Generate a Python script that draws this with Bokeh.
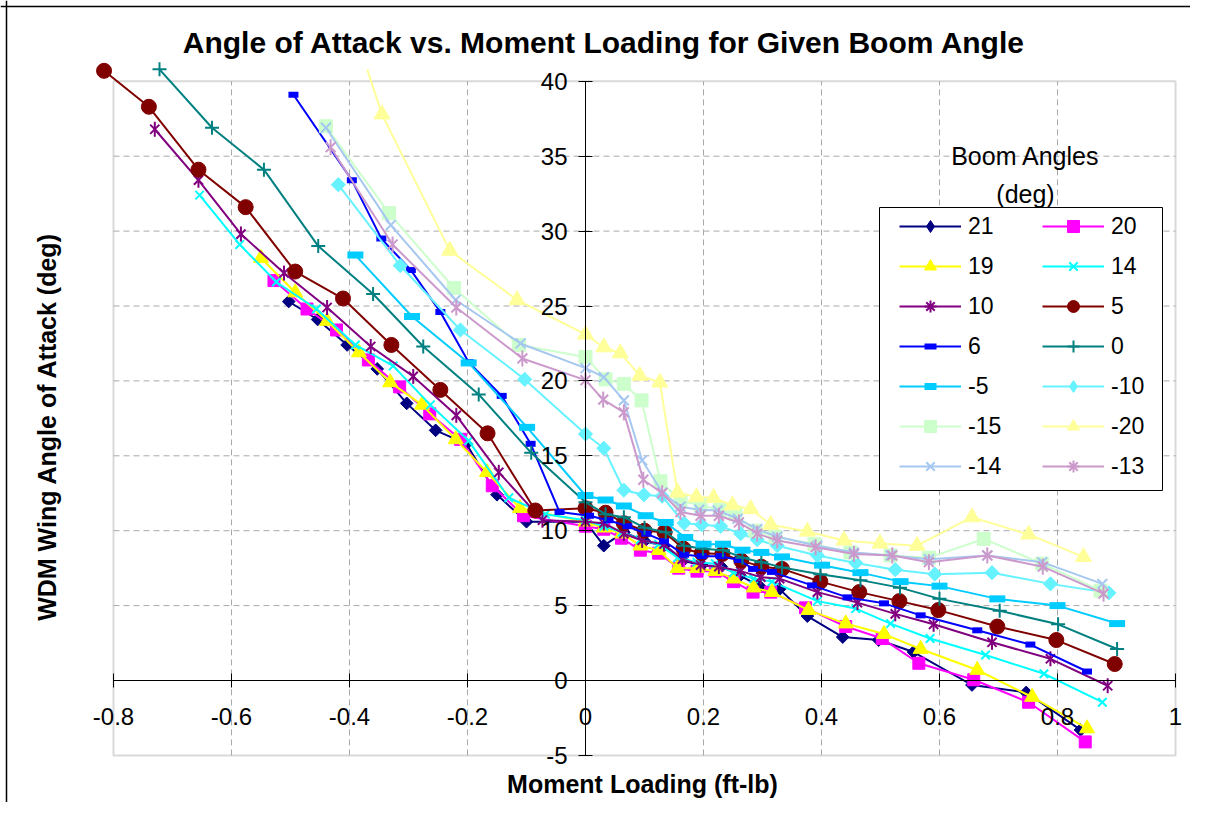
import math
from bokeh.plotting import figure
from bokeh.models import (Label, Legend, LegendItem, BoxAnnotation, FixedTicker, Range1d,
                          ColumnDataSource, LinearAxis, Span)
from bokeh.embed import file_html
from bokeh.resources import INLINE

# ---------------- data ----------------
boom_angles = ["21", "20", "19", "14", "10", "5", "6", "0", "-5", "-10", "-15", "-20", "-14", "-13"]

x_21 = [-0.503, -0.454, -0.404, -0.353, -0.303, -0.254, -0.202, -0.150, -0.100, 0.0, 0.031, 0.065, 0.100, 0.133, 0.165, 0.197, 0.230, 0.262, 0.295, 0.329, 0.376, 0.436, 0.497, 0.556, 0.655, 0.747, 0.839]
y_21 = [25.3, 24.1, 22.4, 20.8, 18.5, 16.7, 15.8, 12.4, 10.6, 10.6, 9.0, 9.9, 9.3, 9.0, 8.0, 7.7, 7.6, 7.0, 6.3, 6.1, 4.3, 2.9, 2.7, 1.9, -0.3, -0.8, -3.3]

x_20 = [-0.528, -0.472, -0.422, -0.368, -0.315, -0.264, -0.212, -0.158, -0.105, 0.0, 0.031, 0.061, 0.093, 0.124, 0.158, 0.189, 0.220, 0.251, 0.284, 0.314, 0.373, 0.441, 0.503, 0.565, 0.658, 0.751, 0.847]
y_20 = [26.7, 24.8, 23.4, 21.4, 19.6, 17.8, 16.1, 13.0, 11.0, 10.3, 10.1, 9.5, 8.7, 8.5, 7.5, 7.3, 7.3, 6.6, 5.9, 5.9, 4.85, 3.6, 2.8, 1.15, 0.05, -1.45, -4.1]

x_19 = [-0.550, -0.492, -0.438, -0.384, -0.331, -0.277, -0.220, -0.167, -0.111, 0.0, 0.031, 0.062, 0.093, 0.124, 0.156, 0.189, 0.220, 0.251, 0.285, 0.316, 0.378, 0.441, 0.506, 0.568, 0.664, 0.757, 0.850]
y_19 = [28.2, 25.9, 24.0, 21.9, 19.9, 18.4, 16.1, 13.9, 11.5, 10.6, 10.2, 9.8, 9.0, 8.7, 7.5, 7.5, 7.3, 6.8, 6.2, 5.9, 4.7, 3.8, 3.1, 2.1, 0.7, -1.1, -3.2]

x_14 = [-0.654, -0.586, -0.524, -0.456, -0.390, -0.326, -0.263, -0.198, -0.130, -0.068, 0.0, 0.031, 0.062, 0.093, 0.124, 0.156, 0.189, 0.220, 0.251, 0.285, 0.316, 0.393, 0.458, 0.517, 0.584, 0.678, 0.777, 0.876]
y_14 = [32.4, 29.1, 26.6, 24.8, 22.4, 21.0, 18.4, 16.0, 12.2, 11.1, 10.7, 10.3, 9.9, 9.4, 9.1, 8.2, 7.9, 7.8, 7.2, 6.8, 6.6, 5.3, 4.8, 3.8, 2.8, 1.7, 0.45, -1.45]

x_10 = [-0.730, -0.656, -0.584, -0.511, -0.438, -0.364, -0.292, -0.219, -0.147, -0.073, 0.0, 0.031, 0.065, 0.096, 0.133, 0.164, 0.195, 0.226, 0.263, 0.297, 0.329, 0.393, 0.461, 0.525, 0.590, 0.689, 0.788, 0.885]
y_10 = [36.8, 33.4, 29.8, 27.2, 24.9, 22.3, 20.3, 17.7, 13.9, 10.7, 10.6, 10.5, 9.8, 9.35, 9.1, 8.1, 7.7, 7.6, 7.3, 6.9, 6.8, 5.9, 5.2, 4.45, 3.75, 2.55, 1.45, -0.35]

x_5 = [-0.816, -0.740, -0.656, -0.576, -0.492, -0.411, -0.329, -0.246, -0.166, -0.085, 0.0, 0.034, 0.065, 0.100, 0.134, 0.166, 0.197, 0.232, 0.264, 0.298, 0.333, 0.398, 0.464, 0.532, 0.598, 0.698, 0.798, 0.897]
y_5 = [40.7, 38.3, 34.1, 31.6, 27.3, 25.5, 22.4, 19.4, 16.5, 11.35, 11.5, 11.2, 10.5, 10.0, 9.9, 8.8, 8.5, 8.45, 8.0, 7.6, 7.45, 6.6, 5.9, 5.3, 4.7, 3.6, 2.7, 1.1]

x_6 = [-0.495, -0.396, -0.346, -0.296, -0.246, -0.198, -0.142, -0.093, -0.044, 0.006, 0.039, 0.071, 0.103, 0.133, 0.167, 0.197, 0.229, 0.260, 0.284, 0.316, 0.384, 0.444, 0.506, 0.568, 0.664, 0.754, 0.850]
y_6 = [39.1, 33.4, 29.5, 27.4, 24.6, 21.25, 19.0, 15.8, 11.25, 11.0, 10.7, 10.3, 9.8, 9.3, 8.4, 8.3, 8.3, 8.05, 7.45, 7.25, 6.35, 5.55, 5.15, 4.35, 3.35, 2.4, 0.6]

x_0 = [-0.722, -0.633, -0.545, -0.453, -0.360, -0.275, -0.181, -0.092, 0.0, 0.034, 0.065, 0.100, 0.136, 0.167, 0.199, 0.233, 0.266, 0.298, 0.333, 0.398, 0.466, 0.533, 0.600, 0.702, 0.801, 0.901]
y_0 = [40.8, 36.9, 34.1, 29.0, 25.8, 22.3, 19.1, 15.2, 11.9, 11.1, 10.9, 10.2, 9.9, 9.0, 8.8, 8.7, 8.2, 7.9, 7.55, 7.1, 6.7, 6.2, 5.45, 4.65, 3.75, 2.1]

x_m5 = [-0.390, -0.294, -0.198, -0.099, 0.0, 0.034, 0.065, 0.102, 0.136, 0.169, 0.200, 0.233, 0.266, 0.298, 0.333, 0.401, 0.466, 0.534, 0.600, 0.698, 0.800, 0.901]
y_m5 = [28.4, 24.3, 21.2, 16.9, 12.35, 12.05, 11.65, 11.0, 10.55, 9.55, 9.1, 9.1, 8.7, 8.55, 8.25, 7.7, 7.2, 6.6, 6.3, 5.45, 5.0, 3.8]

x_m10 = [-0.419, -0.314, -0.212, -0.103, 0.0, 0.031, 0.065, 0.099, 0.130, 0.167, 0.197, 0.229, 0.263, 0.291, 0.325, 0.393, 0.458, 0.525, 0.592, 0.689, 0.788, 0.887]
y_m10 = [33.1, 27.7, 23.4, 20.1, 16.45, 15.5, 12.7, 12.4, 12.3, 10.5, 10.4, 10.3, 9.8, 9.4, 9.0, 8.35, 7.85, 7.4, 7.1, 7.2, 6.45, 5.85]

x_m15 = [-0.440, -0.333, -0.223, -0.113, 0.0, 0.034, 0.065, 0.095, 0.127, 0.161, 0.195, 0.228, 0.254, 0.288, 0.322, 0.388, 0.449, 0.517, 0.582, 0.675, 0.774, 0.873]
y_m15 = [37.0, 31.2, 26.2, 22.4, 21.6, 20.1, 19.8, 18.7, 13.3, 12.0, 11.7, 11.4, 11.1, 10.0, 9.6, 9.1, 8.55, 8.35, 8.2, 9.45, 7.8, 6.0]

# first -20 point: where its line leaves the top of the chart (no marker shown there)
x_m20 = [-0.370, -0.345, -0.230, -0.116, 0.0, 0.031, 0.059, 0.092, 0.126, 0.156, 0.188, 0.217, 0.249, 0.280, 0.314, 0.376, 0.438, 0.499, 0.562, 0.655, 0.751, 0.844]
y_m20 = [40.8, 37.8, 28.7, 25.4, 23.1, 22.25, 21.85, 20.35, 19.9, 12.55, 12.25, 12.2, 11.7, 11.45, 10.4, 9.95, 9.35, 9.15, 9.0, 10.9, 9.75, 8.25]

x_m14 = [-0.440, -0.330, -0.220, -0.110, 0.0, 0.031, 0.065, 0.096, 0.130, 0.161, 0.193, 0.224, 0.258, 0.291, 0.325, 0.393, 0.455, 0.517, 0.582, 0.681, 0.774, 0.876]
y_m14 = [36.9, 30.4, 25.4, 22.5, 20.85, 20.25, 18.7, 14.7, 12.55, 11.6, 11.4, 11.35, 10.8, 10.1, 9.6, 9.0, 8.55, 8.35, 8.1, 8.35, 7.9, 6.45]

x_m13 = [-0.432, -0.327, -0.219, -0.107, 0.0, 0.030, 0.065, 0.098, 0.130, 0.161, 0.195, 0.226, 0.260, 0.291, 0.325, 0.390, 0.455, 0.520, 0.582, 0.681, 0.775, 0.878]
y_m13 = [35.6, 29.1, 24.9, 21.5, 20.05, 18.75, 17.9, 13.4, 12.5, 11.25, 11.0, 11.0, 10.55, 9.8, 9.35, 8.9, 8.45, 8.35, 7.9, 8.35, 7.6, 5.8]

x_ticks = [-0.8, -0.6, -0.4, -0.2, 0, 0.2, 0.4, 0.6, 0.8, 1]
x_tick_labels = ["-0.8", "-0.6", "-0.4", "-0.2", "0", "0.2", "0.4", "0.6", "0.8", "1"]
y_ticks = [-5, 0, 5, 10, 15, 20, 25, 30, 35, 40]
y_tick_labels = ["-5", "0", "5", "10", "15", "20", "25", "30", "35", "40"]
x_min, x_max = -0.8, 1
y_min, y_max = -5, 40

title_text = "Angle of Attack vs. Moment Loading for Given Boom Angle"
x_label_text = "Moment Loading (ft-lb)"
y_label_text = "WDM Wing Angle of Attack (deg)"
legend_title_1 = "Boom Angles"
legend_title_2 = "(deg)"

# ---------------- styles ----------------
xs = [x_21, x_20, x_19, x_14, x_10, x_5, x_6, x_0, x_m5, x_m10, x_m15, x_m20, x_m14, x_m13]
ys = [y_21, y_20, y_19, y_14, y_10, y_5, y_6, y_0, y_m5, y_m10, y_m15, y_m20, y_m14, y_m13]
styles = [
    ("#000080", "diamond", 9),
    ("#FF00FF", "square", 12),
    ("#FFFF00", "triangle", 15),
    ("#00FFFF", "x", 12),
    ("#800080", "star", 13),
    ("#800000", "circle", 15),
    ("#0000FF", "bar_s", 10),
    ("#008080", "plus", 14),
    ("#00CCFF", "bar_l", 16),
    ("#66F2FF", "diamond", 10),
    ("#CCFFCC", "square", 13),
    ("#FFFF99", "triangle", 16),
    ("#A6C8F0", "x", 14),
    ("#CC99CC", "star", 14),
]
# number of leading points whose marker lies beyond the chart edge (not drawn)
marker_skip = [0, 0, 0, 0, 0, 0, 0, 0, 0, 0, 0, 1, 0, 0]

FONT = "Liberation Sans"
W, H = 1190, 802
# the frame fills the whole canvas; ranges put the plot box where the reference has it
p = figure(width=W, height=H, output_backend="svg", toolbar_location=None, title=None,
           x_range=Range1d(-0.9915, 1.0254), y_range=Range1d(-8.144, 45.394),
           x_axis_location=None, y_axis_location=None, min_border=0)
p.background_fill_color = "white"
p.border_fill_color = "white"
p.outline_line_color = None
p.xgrid.visible = False
p.ygrid.visible = False

# outer chart border (left / top)
p.add_layout(Span(location=6, dimension="height", location_units="screen",
                  line_color="black", line_width=1.5))
p.add_layout(Span(location=H - 6, dimension="width", location_units="screen",
                  line_color="black", line_width=1.5))

# plot area box
p.add_layout(BoxAnnotation(left=x_min, right=x_max, bottom=y_min, top=y_max,
                           fill_alpha=0, line_color="#808080", line_width=2, level="underlay"))

# dashed grid lines
gx = x_ticks[1:-1]
gy = y_ticks[1:-1]
p.segment(x0=gx, y0=[y_min] * len(gx), x1=gx, y1=[y_max] * len(gx),
          line_color="#A8A8A8", line_dash="6 4", line_width=1)
p.segment(x0=[x_min] * len(gy), y0=gy, x1=[x_max] * len(gy), y1=gy,
          line_color="#A8A8A8", line_dash="6 4", line_width=1)

# axes crossing at zero
xaxis = LinearAxis(fixed_location=0, bounds=(x_min, x_max), ticker=FixedTicker(ticks=x_ticks))
yaxis = LinearAxis(fixed_location=0, bounds=(y_min, y_max), ticker=FixedTicker(ticks=y_ticks))
xaxis.major_label_overrides = {t: s for t, s in zip(x_ticks, x_tick_labels)}
yaxis.major_label_overrides = {t: s for t, s in zip(y_ticks, y_tick_labels)}
for ax in (xaxis, yaxis):
    ax.axis_line_color = "black"
    ax.axis_line_width = 1
    ax.major_tick_line_color = "black"
    ax.major_tick_in = 7
    ax.major_tick_out = 7
    ax.minor_tick_line_color = None
    ax.major_label_text_font = FONT
    ax.major_label_text_font_size = "24px"
    ax.major_label_text_color = "black"
xaxis.major_label_standoff = 20
yaxis.major_label_standoff = 11
p.add_layout(xaxis, "below")
p.add_layout(yaxis, "left")


def add_markers(src, color, kind, size):
    rs = []
    if kind == "diamond":
        rs.append(p.scatter("x", "y", source=src, marker="square", angle=math.pi / 4, size=size,
                            fill_color=color, line_color=color))
    elif kind == "square":
        rs.append(p.scatter("x", "y", source=src, marker="square", size=size,
                            fill_color=color, line_color=color))
    elif kind == "triangle":
        rs.append(p.scatter("x", "y", source=src, marker="triangle", size=size,
                            fill_color=color, line_color=color))
    elif kind == "circle":
        rs.append(p.scatter("x", "y", source=src, marker="circle", size=size,
                            fill_color=color, line_color=color))
    elif kind == "x":
        rs.append(p.scatter("x", "y", source=src, marker="x", size=size,
                            line_color=color, line_width=2))
    elif kind == "plus":
        rs.append(p.scatter("x", "y", source=src, marker="cross", size=size,
                            line_color=color, line_width=2))
    elif kind == "star":
        rs.append(p.scatter("x", "y", source=src, marker="x", size=size,
                            line_color=color, line_width=2))
        rs.append(p.scatter("x", "y", source=src, marker="dash", angle=math.pi / 2, size=size * 1.15,
                            line_color=color, line_width=2))
    elif kind == "bar_s":
        rs.append(p.scatter("x", "y", source=src, marker="dash", size=size,
                            line_color=color, line_width=6))
    elif kind == "bar_l":
        rs.append(p.scatter("x", "y", source=src, marker="dash", size=size,
                            line_color=color, line_width=7))
    return rs


def legend_marker(src, color, kind, size):
    # hidden copies used only to draw the legend key
    if kind == "diamond":
        return [p.scatter("x", "y", source=src, marker="diamond", size=15,
                          fill_color=color, line_color=color, visible=False)]
    if kind == "star":
        return [p.scatter("x", "y", source=src, marker="asterisk", size=size,
                          line_color=color, line_width=2, visible=False)]
    return None


items = []
for lab, xv, yv, (color, kind, size), skip in zip(boom_angles, xs, ys, styles, marker_skip):
    src = ColumnDataSource(data=dict(x=xv, y=yv))
    msrc = ColumnDataSource(data=dict(x=xv[skip:], y=yv[skip:])) if skip else src
    ln = p.line("x", "y", source=src, line_color=color, line_width=2)
    ms = add_markers(msrc, color, kind, size)
    lm = legend_marker(msrc, color, kind, size)
    items.append(LegendItem(label=lab, renderers=[ln] + (lm if lm else ms)))

# legend box
p.add_layout(BoxAnnotation(left=879, right=1162, top=H - 207, bottom=H - 490,
                           left_units="screen", right_units="screen", top_units="screen", bottom_units="screen",
                           fill_color="white", fill_alpha=1.0, line_color="black", line_width=1, line_alpha=1.0))

for col, lx in ((0, 899), (1, 1042)):
    lg = Legend(items=items[col::2], location=(lx, H - 481), orientation="vertical",
                glyph_width=62, glyph_height=30, label_height=30, label_standoff=7,
                spacing=10, padding=0, margin=0,
                border_line_alpha=0, background_fill_alpha=0,
                label_text_font=FONT, label_text_font_size="23px", label_text_color="black")
    p.add_layout(lg)

# texts (screen units measured from the bottom-left of the canvas)
p.add_layout(Label(x=604, y=H - 42, x_units="screen", y_units="screen", text=title_text,
                   text_font=FONT, text_font_size="30px", text_font_style="bold",
                   text_align="center", text_baseline="middle", text_color="black"))
p.add_layout(Label(x=642, y=H - 783, x_units="screen", y_units="screen", text=x_label_text,
                   text_font=FONT, text_font_size="25px", text_font_style="bold",
                   text_align="center", text_baseline="middle", text_color="black"))
p.add_layout(Label(x=46, y=H - 426, x_units="screen", y_units="screen", text=y_label_text, angle=math.pi / 2,
                   text_font=FONT, text_font_size="25px", text_font_style="bold",
                   text_align="center", text_baseline="middle", text_color="black"))
p.add_layout(Label(x=1025, y=H - 155, x_units="screen", y_units="screen", text=legend_title_1,
                   text_font=FONT, text_font_size="25px",
                   text_align="center", text_baseline="middle", text_color="black"))
p.add_layout(Label(x=1025, y=H - 193, x_units="screen", y_units="screen", text=legend_title_2,
                   text_font=FONT, text_font_size="25px",
                   text_align="center", text_baseline="middle", text_color="black"))

open("out.html", "w").write(file_html(p, INLINE))
